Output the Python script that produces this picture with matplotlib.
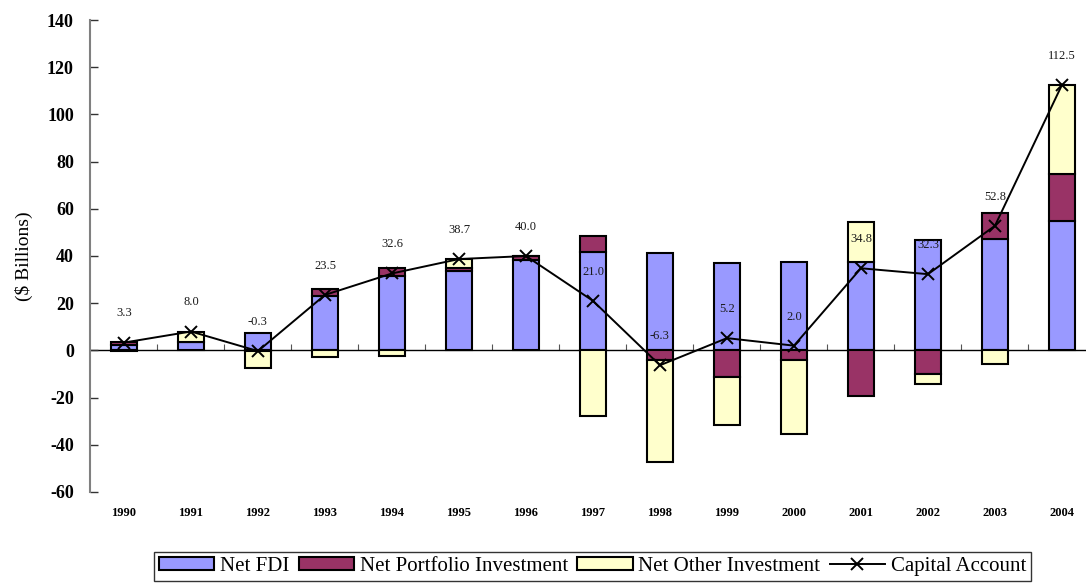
import matplotlib
matplotlib.use("Agg")
import matplotlib.pyplot as plt
import numpy as np

# Capital account components, $ billions
years = ["1990", "1991", "1992", "1993", "1994", "1995", "1996", "1997",
         "1998", "1999", "2000", "2001", "2002", "2003", "2004"]
net_fdi = [2.3, 3.5, 7.2, 23.0, 31.5, 33.8, 38.1, 41.7, 41.1, 37.0, 37.5, 37.4, 46.7, 47.4, 55.0]
net_portfolio = [1.2, 0.2, -0.3, 3.1, 3.5, 1.3, 1.7, 6.9, -4.0, -11.2, -4.0, -19.5, -9.9, 11.0, 19.6]
net_other = [-0.2, 4.3, -7.2, -2.6, -2.4, 3.6, 0.2, -27.6, -43.4, -20.6, -31.5, 16.9, -4.5, -5.6, 37.9]
capital_account = [3.3, 8.0, -0.3, 23.5, 32.6, 38.7, 40.0, 21.0, -6.3, 5.2, 2.0, 34.8, 32.3, 52.8, 112.5]

plt.rcParams["font.family"] = ["Liberation Serif", "DejaVu Serif"]
plt.rcParams["axes.unicode_minus"] = False

fig = plt.figure(figsize=(10.86, 5.85), dpi=100)
ax = fig.add_axes([0.0833, 0.159, 0.9254, 0.8068])

x = np.arange(len(years))
width = 0.4
series = [
    ("Net FDI", net_fdi, "#9999FF"),
    ("Net Portfolio Investment", net_portfolio, "#993366"),
    ("Net Other Investment", net_other, "#FFFFCC"),
]

# Stack positives upward and negatives downward from zero
pos_base = np.zeros(len(years))
neg_base = np.zeros(len(years))
for name, vals, color in series:
    vals = np.asarray(vals, dtype=float)
    bottoms = np.where(vals >= 0, pos_base, neg_base)
    ax.bar(x, vals, width, bottom=bottoms, color=color, edgecolor="black",
           linewidth=1.5, label=name, zorder=2)
    pos_base += np.where(vals >= 0, vals, 0)
    neg_base += np.where(vals < 0, vals, 0)

ax.plot(x, capital_account, color="black", linewidth=1.4, marker="x",
        markersize=9, markeredgewidth=1.4, label="Capital Account", zorder=3)

for xi, v in zip(x, capital_account):
    ax.annotate(f"{v:.1f}", (xi, v), xytext=(0, 21), textcoords="offset points",
                ha="center", va="center", fontsize=9, color="#1a1a1a", zorder=4)

ax.set_xlim(-0.5, len(years) - 0.5)
ax.set_ylim(-60, 140)
ax.set_yticks(np.arange(-60, 141, 20))
ax.tick_params(axis="y", direction="in", length=6, width=1, color="#333333",
               labelsize=13, pad=12)
for lbl in ax.get_yticklabels():
    lbl.set_fontweight("bold")

ax.set_xticks(x)
ax.set_xticklabels(years, fontsize=9, fontweight="bold")
ax.tick_params(axis="x", length=0, pad=11)

for side in ["top", "right", "bottom"]:
    ax.spines[side].set_visible(False)
ax.spines["left"].set_color("#808080")
ax.spines["left"].set_linewidth(1.5)

# Zero line with category divider ticks
zero_axis = ax.secondary_xaxis(60 / 200)
zero_axis.spines["bottom"].set_color("black")
zero_axis.spines["bottom"].set_linewidth(1.0)
zero_axis.set_xticks(np.arange(0.5, len(years) - 0.5, 1.0))
zero_axis.tick_params(axis="x", direction="in", length=4, width=0.8,
                      color="#555555", labelbottom=False)

ax.set_ylabel("($ Billions)", fontsize=14)
ax.yaxis.set_label_coords(-0.057, 0.5)

handles, labels = ax.get_legend_handles_labels()
order = [1, 2, 3, 0]
leg = fig.legend([handles[i] for i in order], [labels[i] for i in order],
                 loc="upper center", bbox_to_anchor=(0.5456, 0.0569), ncol=4,
                 fontsize=15, frameon=True, fancybox=False, edgecolor="black",
                 handlelength=2.65, handleheight=0.62, handletextpad=0.28,
                 columnspacing=0.45, borderpad=0.25, borderaxespad=0)
leg.get_frame().set_linewidth(1.0)

fig.savefig("out.png", dpi=100)
